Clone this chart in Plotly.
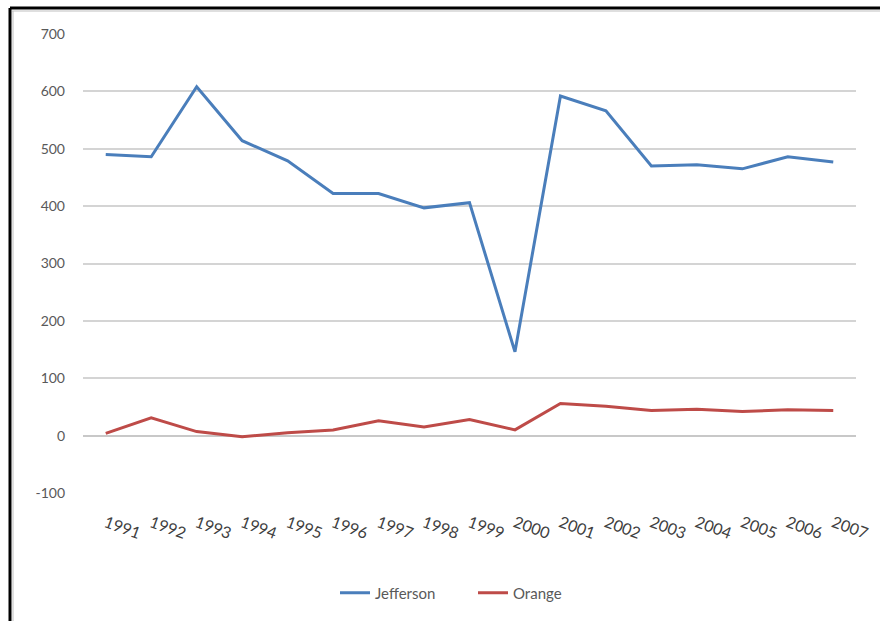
import plotly.graph_objects as go

years = [str(y) for y in range(1991, 2008)]
jefferson = [490, 486, 608, 514, 479, 422, 422, 397, 406, 146, 592, 566, 470, 472, 465, 486, 477]
orange = [4, 31, 7, -2, 5, 10, 26, 15, 28, 10, 56, 51, 44, 46, 42, 45, 44]
y_ticks = [-100, 0, 100, 200, 300, 400, 500, 600, 700]
y_tick_text = ["-100", "0", "100", "200", "300", "400", "500", "600", "700"]

fig = go.Figure()
fig.add_trace(go.Scatter(x=years, y=jefferson, mode="lines", name="Jefferson",
                         line=dict(color="#4a7ebb", width=3)))
fig.add_trace(go.Scatter(x=years, y=orange, mode="lines", name="Orange",
                         line=dict(color="#be4b48", width=3)))

W, H = 880, 621
L, R, T, B = 83, 24, 34, 128
pw, ph = W - L - R, H - T - B

def px(x):
    return (x - L) / pw

def py(y):
    return (H - B - y) / ph

shapes = [
    dict(type="line", xref="paper", yref="paper", x0=px(10), x1=px(880), y0=py(8), y1=py(8),
         line=dict(color="black", width=3)),
    dict(type="line", xref="paper", yref="paper", x0=px(10), x1=px(10), y0=py(8), y1=py(621),
         line=dict(color="black", width=3)),
    dict(type="line", xref="paper", yref="paper", x0=px(12), x1=px(880), y0=py(11), y1=py(11),
         line=dict(color="#bfbfbf", width=1)),
    dict(type="line", xref="paper", yref="paper", x0=px(13), x1=px(13), y0=py(11), y1=py(621),
         line=dict(color="#bfbfbf", width=1)),
]

fig.update_layout(
    width=W, height=H,
    margin=dict(l=L, r=R, t=T, b=B, autoexpand=False),
    paper_bgcolor="white", plot_bgcolor="white",
    font=dict(family="Lato, Open Sans, sans-serif", size=14, color="#595959"),
    showlegend=True,
    legend=dict(orientation="h", x=px(335), xanchor="left", y=py(593), yanchor="middle",
                entrywidth=93, entrywidthmode="pixels",
                font=dict(size=15, color="#595959")),
    shapes=shapes,
    xaxis=dict(type="category", range=[-0.5, 16.5], showgrid=False, showline=False,
               zeroline=False, ticks="", tickangle=20, ticklabelstandoff=17,
               tickfont=dict(size=16, color="#404040", family="Lato, sans-serif")),
    yaxis=dict(range=[-100, 700], tickvals=y_ticks, ticktext=y_tick_text,
               showgrid=True, gridcolor="#d4d4d4",
               gridwidth=1.5, zeroline=True, zerolinecolor="#c8c8c8", zerolinewidth=1.5,
               showline=False, ticks="", ticklabelstandoff=17,
               tickfont=dict(size=14, color="#595959")),
)

fig.write_html("out.html", config={"displayModeBar": False},
               post_script="document.body.style.margin='0';")
